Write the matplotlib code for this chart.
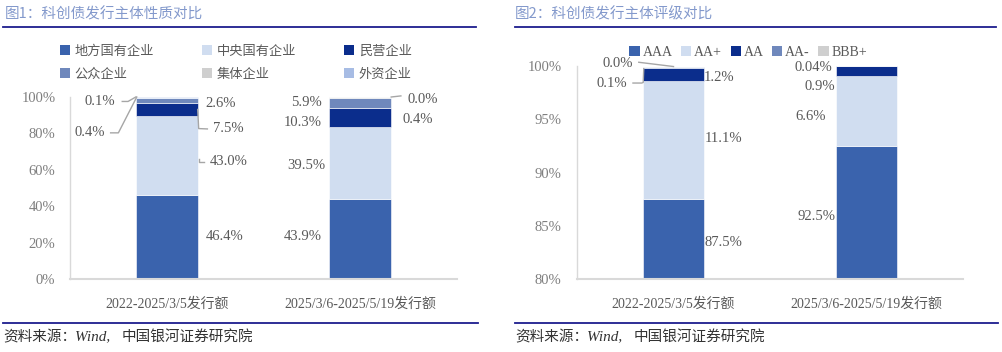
import matplotlib
matplotlib.use("Agg")
import matplotlib.pyplot as plt
from matplotlib.patches import Patch
from matplotlib.lines import Line2D
import numpy as np

# ---------------- data ----------------
categories = ["2022-2025/3/5发行额", "2025/3/6-2025/5/19发行额"]

# Figure 1: issuer nature
nature_names = ["地方国有企业", "中央国有企业", "民营企业", "公众企业", "集体企业", "外资企业"]
nature_p1 = [46.4, 43.0, 7.5, 2.6, 0.1, 0.4]
nature_p2 = [43.9, 39.5, 10.3, 5.9, 0.4, 0.0]

# Figure 2: issuer rating
rating_names = ["AAA", "AA+", "AA", "AA-", "BBB+"]
rating_p1 = [87.5, 11.1, 1.2, 0.1, 0.0]
rating_p2 = [92.5, 6.6, 0.9, 0.04, 0.0]
rating_lbl1 = ["87.5%", "11.1%", "1.2%", "0.1%", "0.0%"]
rating_lbl2 = ["92.5%", "6.6%", "0.9%", "0.04%", None]

# ---------------- style ----------------
nature_colors = ["#3A63AD", "#D0DDF0", "#0B2D8C", "#6F88BC", "#CFCFCF", "#A7BCE4"]
rating_colors = ["#3A63AD", "#D0DDF0", "#0B2D8C", "#6F88BC", "#CFCFCF"]
TXT = "#595959"
TICK = "#7F7F7F"
TITLE = "#8399CC"
NAVY = "#1C1C8E"
SPINE = "#D9D9D9"
FAM = ["Liberation Serif", "Noto Sans CJK SC", "DejaVu Sans"]
CJK = ["Noto Sans CJK SC", "DejaVu Sans"]

plt.rcParams["font.family"] = FAM

W, H = 1003, 352
fig = plt.figure(figsize=(W / 100, H / 100), dpi=100)


def fx(px):
    return px / W


def fy(py):
    return 1 - py / H


# headers / footers
fig.text(fx(5), fy(14), "图1：科创债发行主体性质对比", color=TITLE, fontsize=10.5,
         family=CJK, va="center", ha="left")
fig.text(fx(515), fy(14), "图2：科创债发行主体评级对比", color=TITLE, fontsize=10.5,
         family=CJK, va="center", ha="left")
for x0, x1 in [(3, 476), (515, 996)]:
    fig.add_artist(Line2D([fx(x0), fx(x1)], [fy(26.5), fy(26.5)], color=NAVY, lw=1.3))
    fig.add_artist(Line2D([fx(x0), fx(x1 + 2)], [fy(323), fy(323)], color=NAVY, lw=1.3))
for x0 in [3, 515]:
    fig.text(fx(x0), fy(337), "资料来源：", color="#333333", fontsize=10.5, family=CJK,
             va="center", ha="left")
    fig.text(fx(x0 + 72), fy(337), "Wind,", color="#333333", fontsize=11, style="italic",
             family=["Liberation Serif"], va="center", ha="left")
    fig.text(fx(x0 + 119), fy(337), "中国银河证券研究院", color="#333333", fontsize=10.5,
             family=CJK, va="center", ha="left")

BW = 0.32


def setup(ax, ylim, ticks, pad):
    ax.set_xlim(-0.5, 1.5)
    ax.set_ylim(*ylim)
    ax.set_yticks(ticks)
    ax.set_yticklabels([f"{t}%" for t in ticks], color=TICK, fontsize=10.5)
    ax.set_xticks(range(len(categories)))
    ax.set_xticklabels(categories, color=TXT, fontsize=10)
    ax.tick_params(length=0)
    ax.tick_params(axis="y", pad=pad)
    ax.tick_params(axis="x", pad=13)
    for s in ["top", "right"]:
        ax.spines[s].set_visible(False)
    ax.spines["bottom"].set_color(SPINE)
    ax.spines["left"].set_color(SPINE)
    ax.spines["bottom"].set_linewidth(1.5)
    ax.spines["left"].set_linewidth(1.0)


def stack(ax, vals_list, colors, floor=0.0):
    """Stack segments from 0; return the middle of the visible part of each segment."""
    mids = []
    for i, vals in enumerate(vals_list):
        bottom = 0.0
        m = []
        for v, c in zip(vals, colors):
            ax.bar(i, v, BW, bottom=bottom, color=c, edgecolor="white", linewidth=0.4)
            m.append((max(bottom, floor) + bottom + v) / 2)
            bottom += v
        mids.append(m)
    return mids


# ---------------- Figure 1 ----------------
ax1 = fig.add_axes([fx(70), fy(279), fx(457) - fx(70), fy(97) - fy(279)])
mids1 = stack(ax1, [nature_p1, nature_p2], nature_colors)
setup(ax1, (0, 100), [0, 20, 40, 60, 80, 100], pad=10.5)

kw = dict(color=TXT, fontsize=10.5, va="center", clip_on=False)
L = dict(color="#A6A6A6", lw=1.0, clip_on=False)
# bar 1 (labels on the right)
xr = BW / 2
ax1.text(xr + 0.04, mids1[0][0], f"{nature_p1[0]:.1f}%", ha="left", **kw)
ax1.text(xr + 0.06, mids1[0][1] - 3.6, f"{nature_p1[1]:.1f}%", ha="left", **kw)
ax1.plot([xr + 0.005, xr + 0.005, xr + 0.03], [mids1[0][1] - 1.8, mids1[0][1] - 3.6, mids1[0][1] - 3.6], **L)
ax1.text(xr + 0.08, mids1[0][2] - 10.7, f"{nature_p1[2]:.1f}%", ha="left", **kw)
ax1.plot([xr, xr + 0.005, xr + 0.05], [mids1[0][2], mids1[0][2] - 10.5, mids1[0][2] - 10.7], **L)
ax1.text(xr + 0.04, mids1[0][3] - 1.5, f"{nature_p1[3]:.1f}%", ha="left", **kw)
top1 = sum(nature_p1)
ax1.text(-0.268, mids1[0][4] - 2.0, f"{nature_p1[4]:.1f}%", ha="right", **kw)
ax1.plot([-0.23, -0.2, -xr], [mids1[0][4] - 2.0, mids1[0][4] - 2.0, top1], **L)
ax1.text(-0.32, mids1[0][5] - 19.5, f"{nature_p1[5]:.1f}%", ha="right", **kw)
ax1.plot([-0.29, -0.25, -xr + 0.005], [mids1[0][5] - 19.5, mids1[0][5] - 19.5, top1], **L)
# bar 2 (labels on the left)
xl = 1 - BW / 2
ax1.text(xl - 0.04, mids1[1][0] + 1.5, f"{nature_p2[0]:.1f}%", ha="right", **kw)
ax1.text(xl - 0.02, mids1[1][1] - 1.5, f"{nature_p2[1]:.1f}%", ha="right", **kw)
ax1.text(xl - 0.04, mids1[1][2] - 2.5, f"{nature_p2[2]:.1f}%", ha="right", **kw)
ax1.text(xl - 0.04, mids1[1][3] + 0.3, f"{nature_p2[3]:.1f}%", ha="right", **kw)
xr2 = 1 + BW / 2
ax1.text(xr2 + 0.057, mids1[1][4] - 11.9, f"{nature_p2[4]:.1f}%", ha="left", **kw)
ax1.text(xr2 + 0.083, mids1[1][5] - 1.1, f"{nature_p2[5]:.1f}%", ha="left", **kw)
ax1.plot([xr2, xr2 + 0.05], [mids1[1][5], mids1[1][5] + 0.6], **L)

handles1 = [Patch(facecolor=c, edgecolor="none") for c in nature_colors]
order = [0, 3, 1, 4, 2, 5]
fig.legend([handles1[i] for i in order], [nature_names[i] for i in order], ncol=3,
           loc="upper left", bbox_to_anchor=(fx(48), fy(33)), frameon=False,
           prop={"family": CJK, "size": 9.5}, labelcolor=TXT,
           handlelength=0.75, handleheight=0.75, handletextpad=0.35,
           columnspacing=3.65, labelspacing=0.75)

# ---------------- Figure 2 ----------------
ax2 = fig.add_axes([fx(577), fy(279), fx(963) - fx(577), fy(66) - fy(279)])
mids2 = stack(ax2, [rating_p1, rating_p2], rating_colors, floor=80.0)
setup(ax2, (80, 100), [80, 85, 90, 95, 100], pad=11)

# bar 1 labels
xr = BW / 2
ax2.text(xr, mids2[0][0] - 0.3, rating_lbl1[0], ha="left", **kw)
ax2.text(xr, mids2[0][1] + 0.1, rating_lbl1[1], ha="left", **kw)
ax2.text(xr - 0.005, mids2[0][2] - 0.25, rating_lbl1[2], ha="left", **kw)
ax2.text(-0.24, mids2[0][3] - 1.45, rating_lbl1[3], ha="right", **kw)
ax2.plot([-0.21, -0.165, -xr + 0.003, -xr + 0.006], [mids2[0][3] - 1.45, mids2[0][3] - 1.45,
                                                    mids2[0][3] - 1.4, mids2[0][3] - 0.1], **L)
ax2.text(-0.21, mids2[0][4] + 0.3, rating_lbl1[4], ha="right", **kw)
ax2.plot([-0.18, 0.0], [mids2[0][4] + 0.45, mids2[0][4] + 0.05], **L)
# bar 2 labels
xl = 1 - BW / 2
ax2.text(xl, mids2[1][0] - 0.35, rating_lbl2[0], ha="right", **kw)
ax2.text(xl - 0.05, mids2[1][1] - 0.5, rating_lbl2[1], ha="right", **kw)
ax2.text(xl - 0.005, mids2[1][2] - 1.45, rating_lbl2[2], ha="right", **kw)
ax2.text(xl - 0.02, mids2[1][3] - 0.2, rating_lbl2[3], ha="right", **kw)

handles2 = [Patch(facecolor=c, edgecolor="none") for c in rating_colors]
fig.legend(handles2, rating_names, ncol=5, loc="upper left",
           bbox_to_anchor=(fx(617), fy(33)), frameon=False,
           prop={"family": FAM, "size": 10}, labelcolor=TXT,
           handlelength=0.75, handleheight=0.75, handletextpad=0.2,
           columnspacing=0.6)

fig.savefig("out.png", dpi=100, facecolor="white")
